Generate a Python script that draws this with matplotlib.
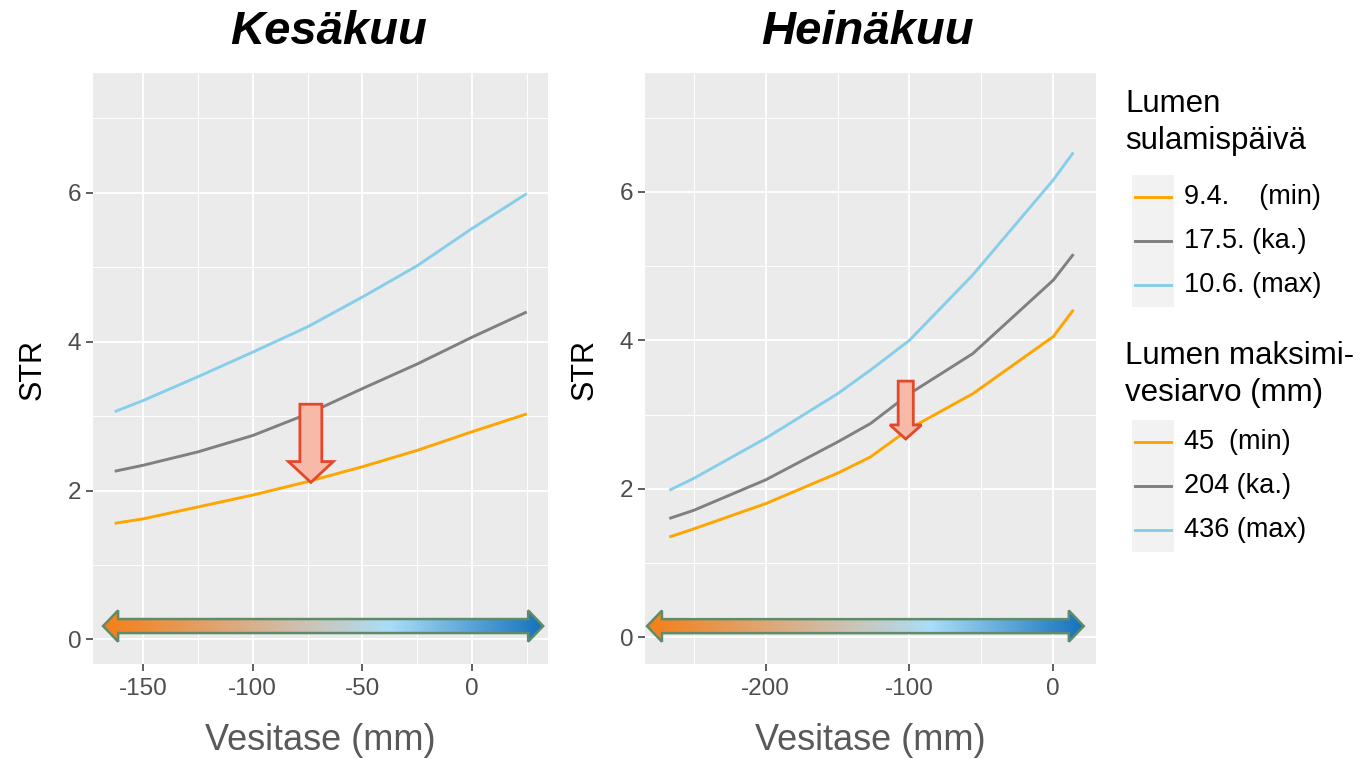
import numpy as np
import matplotlib
matplotlib.use("Agg")
import matplotlib.pyplot as plt
from matplotlib.patches import Polygon, Rectangle
from matplotlib.lines import Line2D
from matplotlib.colors import LinearSegmentedColormap

plt.rcParams['font.family'] = ['Liberation Sans', 'DejaVu Sans']
plt.rcParams['axes.unicode_minus'] = False

# ---------------- data ----------------
titles = ["Kesäkuu", "Heinäkuu"]

jun_x = [-163, -150, -125, -100, -75, -50, -25, 0, 25]
jun_min = [1.56, 1.62, 1.78, 1.94, 2.12, 2.32, 2.54, 2.79, 3.03]
jun_avg = [2.26, 2.34, 2.52, 2.74, 3.03, 3.37, 3.70, 4.06, 4.40]
jun_max = [3.06, 3.21, 3.53, 3.86, 4.20, 4.60, 5.02, 5.52, 5.99]

jul_x = [-267, -250, -200, -150, -127, -100, -56, 0, 14]
jul_min = [1.35, 1.46, 1.80, 2.21, 2.43, 2.81, 3.28, 4.05, 4.41]
jul_avg = [1.60, 1.71, 2.12, 2.63, 2.88, 3.28, 3.82, 4.81, 5.16]
jul_max = [1.98, 2.14, 2.68, 3.28, 3.60, 4.00, 4.88, 6.16, 6.53]

jun_xticks = [-150, -100, -50, 0]
jul_xticks = [-200, -100, 0]
yticks = [0, 2, 4, 6]

legend1_title = "Lumen\nsulamispäivä"
legend1_labels = ["9.4.    (min)", "17.5. (ka.)", "10.6. (max)"]
legend2_title = "Lumen maksimi-\nvesiarvo (mm)"
legend2_labels = ["45  (min)", "204 (ka.)", "436 (max)"]
series_colors = ["#FFA500", "#808080", "#87CEEB"]

# ---------------- figure ----------------
W, H = 1362, 759
fig = plt.figure(figsize=(W / 100, H / 100), dpi=100)

def fx(px):
    return px / W

def fy(py):
    return 1 - py / H

ax1 = fig.add_axes([fx(93), fy(664), fx(548 - 93), (664 - 73) / H])
ax2 = fig.add_axes([fx(645), fy(664), fx(1096 - 645), (664 - 73) / H])

grad_cmap = LinearSegmentedColormap.from_list(
    "grad", [(0.0, "#F57F17"), (0.3, "#DDAA80"), (0.5, "#C8C8C2"),
             (0.65, "#AADDF8"), (1.0, "#1572BC")])


def grad_arrow(ax, x0, x1, yc, hl, sh, hh):
    verts = [(x0, yc), (x0 + hl, yc + hh), (x0 + hl, yc + sh), (x1 - hl, yc + sh),
             (x1 - hl, yc + hh), (x1, yc), (x1 - hl, yc - hh), (x1 - hl, yc - sh),
             (x0 + hl, yc - sh), (x0 + hl, yc - hh)]
    poly = Polygon(verts, closed=True, facecolor='none', edgecolor='#5E8C68',
                   lw=1.8, zorder=6, joinstyle='miter')
    ax.add_patch(poly)
    g = np.linspace(0, 1, 512).reshape(1, -1)
    im = ax.imshow(g, cmap=grad_cmap, extent=[x0, x1, yc - hh, yc + hh],
                   aspect='auto', zorder=5, interpolation='bilinear')
    im.set_clip_path(poly)


def down_arrow(ax, xc, ytop, ybase, ytip, sw, hw):
    verts = [(xc - sw / 2, ytop), (xc + sw / 2, ytop), (xc + sw / 2, ybase),
             (xc + hw / 2, ybase), (xc, ytip), (xc - hw / 2, ybase),
             (xc - sw / 2, ybase)]
    ax.add_patch(Polygon(verts, closed=True, facecolor='#F7B9A8',
                         edgecolor='#E5472B', lw=2.0, zorder=7,
                         joinstyle='miter'))


panels = [
    (ax1, jun_x, [jun_min, jun_avg, jun_max], jun_xticks, (-172.9, 34.7), (-0.33, 7.61)),
    (ax2, jul_x, [jul_min, jul_avg, jul_max], jul_xticks, (-283.9, 29.7), (-0.36, 7.60)),
]

for i, (ax, xs, ys, xt, xl, yl) in enumerate(panels):
    ax.set_facecolor('#EBEBEB')
    for s in ax.spines.values():
        s.set_visible(False)
    ax.set_xticks(xt)
    ax.set_yticks(yticks)
    step = xt[1] - xt[0]
    minors = [t + step / 2 for t in [xt[0] - step] + xt if xl[0] < t + step / 2 < xl[1]]
    ax.set_xticks(minors, minor=True)
    ax.set_yticks([1, 3, 5, 7], minor=True)
    ax.grid(True, which='major', color='white', lw=1.3, zorder=0)
    ax.grid(True, which='minor', color='white', lw=0.7, zorder=0)
    ax.set_axisbelow(True)
    ax.tick_params(which='major', length=5, width=1.1, color='#333333',
                   labelsize=17.5, labelcolor='#4D4D4D', pad=5)
    ax.tick_params(axis='y', pad=3.5)
    ax.tick_params(which='minor', length=0)
    for y, c in zip(ys, series_colors):
        ax.plot(xs, y, color=c, lw=2.1, zorder=3, solid_capstyle='butt')
    ax.set_xlim(*xl)
    ax.set_ylim(*yl)

# gradient arrows
grad_arrow(ax1, -168.3, 32.5, 0.18, 6.85, 0.094, 0.21)
grad_arrow(ax2, -282.5, 21.2, 0.15, 10.4, 0.094, 0.21)

# red arrows
down_arrow(ax1, -73.5, 3.16, 2.39, 2.11, 10.0, 20.5)
down_arrow(ax2, -102.6, 3.45, 2.86, 2.67, 10.5, 22.0)

# titles and axis labels
for ax, t, cx in ((ax1, titles[0], 329), (ax2, titles[1], 867)):
    fig.text(fx(cx), fy(32), t, ha='center', va='center', fontsize=34,
             fontweight='bold', fontstyle='italic', color='black')

fig.text(fx(320.5), fy(740), "Vesitase (mm)", ha='center', va='center',
         fontsize=26, color='#595959')
fig.text(fx(870.5), fy(740), "Vesitase (mm)", ha='center', va='center',
         fontsize=26, color='#595959')
fig.text(fx(33), fy(370), "STR", ha='center', va='center', rotation=90,
         fontsize=22, color='black')
fig.text(fx(585), fy(370), "STR", ha='center', va='center', rotation=90,
         fontsize=22, color='black')

# legends
def legend(title, labels, title_y, box_top, box_bot):
    lines = title.split("\n")
    for k, ln in enumerate(lines):
        fig.text(fx(1125), fy(title_y[k]), ln, ha='left', va='center',
                 fontsize=22.5, color='black')
    fig.add_artist(Rectangle((fx(1132), fy(box_bot)), fx(1174 - 1132),
                             (box_bot - box_top) / H, transform=fig.transFigure,
                             facecolor='#F2F2F2', edgecolor='none'))
    n = len(labels)
    hgt = (box_bot - box_top) / n
    for k, (lab, c) in enumerate(zip(labels, series_colors)):
        yy = box_top + hgt * (k + 0.5)
        fig.add_artist(Line2D([fx(1135), fx(1171)], [fy(yy), fy(yy)],
                              transform=fig.transFigure, color=c, lw=2.1))
        fig.text(fx(1184), fy(yy), lab, ha='left', va='center',
                 fontsize=19.5, color='black')

legend(legend1_title, legend1_labels, (104, 141), 175, 307)
legend(legend2_title, legend2_labels, (356, 393), 420, 552)

fig.savefig("out.png", dpi=100)
